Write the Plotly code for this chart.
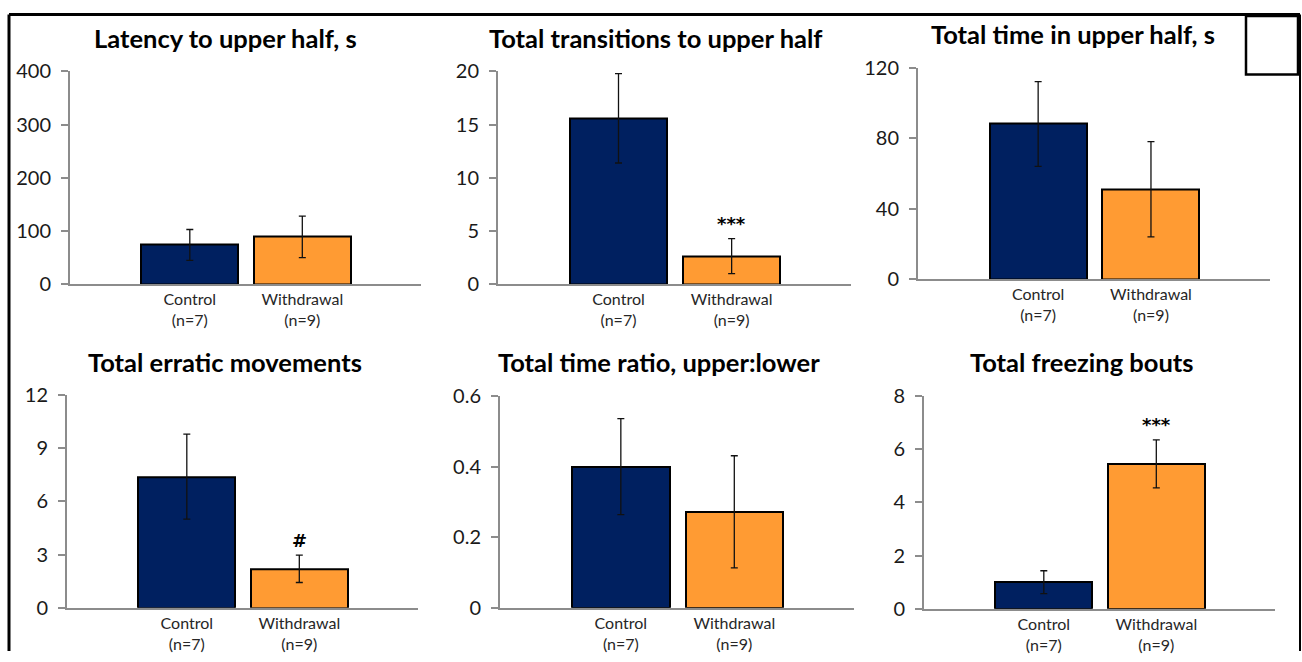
import plotly.graph_objects as go

# ---- data -------------------------------------------------------------
titles = [
    "Latency to upper half, s",
    "Total transitions to upper half",
    "Total time in upper half, s",
    "Total erratic movements",
    "Total time ratio, upper:lower",
    "Total freezing bouts",
]
groups = ["Control<br>(n=7)", "Withdrawal<br>(n=9)"]
control_mean = [74, 15.6, 88, 7.4, 0.40, 1.0]
control_sem = [29, 4.2, 24, 2.4, 0.136, 0.43]
withdrawal_mean = [89, 2.65, 51, 2.2, 0.272, 5.45]
withdrawal_sem = [39, 1.65, 27, 0.77, 0.159, 0.9]
y_max = [400, 20, 120, 12, 0.6, 8]
y_step = [100, 5, 40, 3, 0.2, 2]
sig_marks = ["", "***", "", "#", "", "***"]

# ---- layout geometry (pixels from the top-left of the figure) -----------
W, H = 1302, 662
# left, right, top, bottom of each plotting area
boxes = [
    (70, 421, 60.7, 281.5),
    (498, 851, 60.7, 281.5),
    (918, 1270, 56.6, 276.3),
    (67, 418, 396.5, 617.2),
    (500, 854, 397.5, 617.2),
    (924, 1275, 397.5, 618.2),
]
title_pos = [(226, 25.5), (656, 25.5), (1073, 21.5), (225, 362.5), (659, 362.5), (1082, 362.5)]

NAVY = "#002060"
ORANGE = "#FF9B33"
AXIS_GREY = "#8C8C8C"
FONT = "Lato, 'Open Sans', sans-serif"

fig = go.Figure()

for i in range(6):
    n = "" if i == 0 else str(i + 1)
    xa, ya = "x" + n, "y" + n
    fig.add_trace(go.Bar(
        x=[0, 1],
        y=[control_mean[i], withdrawal_mean[i]],
        width=0.86,
        marker=dict(color=[NAVY, ORANGE], line=dict(color="black", width=2)),
        error_y=dict(type="data", array=[control_sem[i], withdrawal_sem[i]],
                     visible=True, color="#111111", thickness=1.3, width=3.5),
        xaxis=xa, yaxis=ya, showlegend=False, hoverinfo="skip",
    ))
    l, r, t, b = boxes[i]
    fig.layout["xaxis" + n] = dict(
        domain=[l / W, r / W], anchor=ya, range=[-1.065, 2.055],
        tickvals=[0, 1], ticktext=groups, ticks="", showgrid=False,
        zeroline=False, showline=True, linecolor=AXIS_GREY, linewidth=2,
        tickfont=dict(family=FONT, size=16, color="#262626"),
        fixedrange=True,
    )
    fig.layout["yaxis" + n] = dict(
        domain=[1 - b / H, 1 - t / H], anchor=xa, range=[0, y_max[i]],
        dtick=y_step[i], tick0=0, showgrid=False, zeroline=False,
        showline=True, linecolor=AXIS_GREY, linewidth=2,
        ticks="outside", ticklen=7, tickcolor=AXIS_GREY, tickwidth=2,
        ticklabelstandoff=6,
        tickfont=dict(family=FONT, size=20, color="#1a1a1a"),
        fixedrange=True,
    )
    tx, ty = title_pos[i]
    fig.add_annotation(
        x=tx / W, y=1 - ty / H, xref="paper", yref="paper",
        text="<b>" + titles[i] + "</b>", showarrow=False,
        xanchor="center", yanchor="middle",
        font=dict(family=FONT, size=25.5, color="black"),
    )
    if sig_marks[i]:
        fig.add_annotation(
            x=1, y=withdrawal_mean[i] + withdrawal_sem[i], xref=xa, yref=ya,
            text="<b>" + sig_marks[i] + "</b>", showarrow=False,
            xanchor="center", yanchor="middle", yshift=15,
            font=dict(family="DejaVu Sans", size=18, color="black"),
        )

# outer frame (left, top and right edges) and the small empty box
frame_top = 1 - 1.5 / H
for x0, y0, x1, y1, w in [
    (9 / W, 0, 9 / W, frame_top, 3),
    (9 / W, frame_top, 1300 / W, frame_top, 3),
    (1300 / W, 0, 1300 / W, frame_top, 2),
]:
    fig.add_shape(type="line", xref="paper", yref="paper",
                  x0=x0, y0=y0, x1=x1, y1=y1,
                  line=dict(color="black", width=w))
fig.add_shape(type="rect", xref="paper", yref="paper",
              x0=1246 / W, x1=1298 / W, y0=1 - 63.8 / H, y1=1 - 3 / H,
              line=dict(color="black", width=2.5), fillcolor="white")

fig.update_layout(
    width=W, height=H, autosize=False,
    margin=dict(l=0, r=0, t=0, b=0),
    paper_bgcolor="white", plot_bgcolor="white",
    bargap=0,
)

fig.write_html("out.html", config={"displayModeBar": False})
